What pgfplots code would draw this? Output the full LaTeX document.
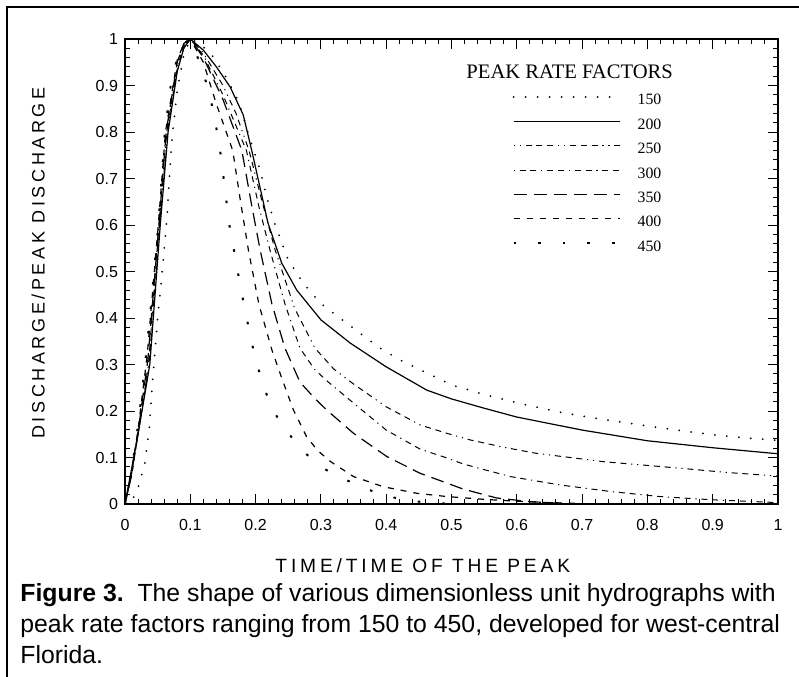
\documentclass[border=0pt]{standalone}
\usepackage{pgfplots}
\pgfplotsset{compat=1.18}
\usepackage{fontspec}
\setmainfont{Liberation Serif}
\setsansfont{Liberation Sans}
\newfontfamily\labelfont[LetterSpace=20]{Liberation Sans}

\pgfplotsset{
  p150/.style={black, line width=1pt, line cap=round, dash pattern=on 0pt off 6pt},
  p200/.style={black, line width=0.6pt},
  p250/.style={black, line width=0.5pt, dash pattern=on 0.6pt off 2.4pt on 0.6pt off 2.4pt on 3pt off 2.4pt on 3pt off 2.4pt on 3pt off 2.4pt},
  p300/.style={black, line width=0.5pt, dash pattern=on 0.6pt off 2.4pt on 3pt off 2.4pt on 3pt off 2.4pt},
  p350/.style={black, line width=0.6pt, dash pattern=on 6.5pt off 3.5pt},
  p400/.style={black, line width=0.6pt, dash pattern=on 3pt off 3.5pt},
  p450/.style={black, line width=1pt, dash pattern=on 1.3pt off 11pt},
}

\begin{document}
\begin{tikzpicture}
\path[use as bounding box] (-62.5pt,-86pt) rectangle (337pt,252pt);
\draw[line width=1pt] (-59.1pt,-90pt) -- (-59.1pt,248.6pt) -- (340pt,248.6pt);
\begin{axis}[
  at={(0,0)}, anchor=south west,
  scale only axis, width=326.5pt, height=232.5pt,
  xmin=0, xmax=1, ymin=0, ymax=1,
  xtick={0,0.1,0.2,0.3,0.4,0.5,0.6,0.7,0.8,0.9,1},
  ytick={0,0.1,0.2,0.3,0.4,0.5,0.6,0.7,0.8,0.9,1},
  minor x tick num=4, minor y tick num=4,
  tick align=inside,
  major tick length=5pt, minor tick length=2.5pt,
  axis line style={line width=0.6pt},
  every tick/.style={black, line width=0.5pt},
  /pgf/number format/assume math mode=true,
  tick label style={font=\sffamily\fontsize{8}{9}\selectfont},
  xticklabel style={yshift=-4pt},
  xlabel={TIME/TIME OF THE PEAK},
  ylabel={DISCHARGE/PEAK DISCHARGE},
  xlabel style={at={(axis description cs:0.456,-0.133)}, anchor=center,
    font=\labelfont\fontsize{9.6}{10}\selectfont},
  ylabel style={at={(axis description cs:-0.133,0.518)}, anchor=center,
    font=\labelfont\fontsize{9}{10}\selectfont},
  legend style={at={(0.593,0.894)}, anchor=north west, draw=none, fill=none,
    inner sep=0pt, row sep=0pt, font=\fontsize{7.9}{8}\selectfont,
    nodes={inner sep=0pt, text height=8.1pt, text depth=4.1pt}},
  legend image code/.code={\draw[#1] (0pt,2pt) -- (53pt,2pt); \path (61.5pt,2pt);},
  legend cell align=left,
]
\addplot[p150] coordinates {(0,0) (0.01,0.005) (0.02,0.035) (0.03,0.085) (0.037,0.16) (0.042,0.26) (0.05,0.40) (0.057,0.5) (0.064,0.61) (0.071,0.77) (0.08,0.89) (0.09,0.965) (0.1,1) (0.115,0.99) (0.135,0.962) (0.156,0.915) (0.174,0.865) (0.191,0.786) (0.207,0.718) (0.217,0.66) (0.23,0.60) (0.25,0.525) (0.273,0.475) (0.299,0.432) (0.329,0.40) (0.36,0.367) (0.393,0.333) (0.426,0.306) (0.462,0.282) (0.5,0.256) (0.554,0.234) (0.615,0.213) (0.671,0.196) (0.727,0.183) (0.789,0.170) (0.845,0.159) (0.906,0.148) (0.96,0.141) (1,0.137)};
\addplot[p200] coordinates {(0,0) (0.02,0.15) (0.038,0.30) (0.046,0.45) (0.054,0.60) (0.066,0.80) (0.08,0.93) (0.09,0.98) (0.1,1) (0.12,0.976) (0.14,0.94) (0.161,0.897) (0.181,0.837) (0.194,0.761) (0.219,0.604) (0.24,0.518) (0.263,0.46) (0.3,0.396) (0.345,0.346) (0.4,0.295) (0.462,0.245) (0.5,0.226) (0.55,0.206) (0.6,0.187) (0.7,0.159) (0.8,0.136) (0.9,0.121) (1,0.108)};
\addplot[p250] coordinates {(0,0) (0.01,0.06) (0.02,0.15) (0.037,0.30) (0.053,0.60) (0.065,0.80) (0.08,0.935) (0.09,0.98) (0.1,1) (0.12,0.97) (0.15,0.90) (0.17,0.84) (0.19,0.76) (0.21,0.65) (0.23,0.546) (0.26,0.42) (0.291,0.335) (0.32,0.29) (0.35,0.258) (0.4,0.209) (0.452,0.170) (0.493,0.152) (0.528,0.138) (0.58,0.122) (0.63,0.109) (0.733,0.091) (0.85,0.077) (0.92,0.068) (1,0.06)};
\addplot[p300] coordinates {(0,0) (0.01,0.06) (0.02,0.15) (0.036,0.30) (0.052,0.60) (0.064,0.80) (0.08,0.94) (0.09,0.985) (0.1,1) (0.12,0.965) (0.15,0.88) (0.186,0.76) (0.205,0.64) (0.222,0.546) (0.245,0.43) (0.268,0.335) (0.29,0.29) (0.309,0.265) (0.35,0.217) (0.4,0.159) (0.452,0.118) (0.493,0.099) (0.518,0.086) (0.59,0.059) (0.666,0.041) (0.743,0.027) (0.819,0.016) (0.9,0.009) (1,0.003)};
\addplot[p350] coordinates {(0,0) (0.01,0.065) (0.02,0.155) (0.035,0.31) (0.052,0.60) (0.063,0.80) (0.08,0.95) (0.09,0.99) (0.1,1) (0.12,0.96) (0.15,0.87) (0.179,0.76) (0.193,0.65) (0.207,0.546) (0.225,0.43) (0.245,0.335) (0.268,0.262) (0.29,0.228) (0.309,0.202) (0.35,0.152) (0.401,0.102) (0.452,0.066) (0.493,0.045) (0.518,0.032) (0.569,0.013) (0.62,0.005) (0.69,0)};
\addplot[p400] coordinates {(0,0) (0.01,0.07) (0.02,0.16) (0.034,0.32) (0.051,0.60) (0.062,0.80) (0.08,0.955) (0.09,0.99) (0.1,1) (0.12,0.95) (0.14,0.86) (0.165,0.76) (0.177,0.65) (0.189,0.546) (0.205,0.43) (0.225,0.331) (0.241,0.267) (0.258,0.202) (0.278,0.145) (0.295,0.115) (0.314,0.092) (0.35,0.059) (0.396,0.037) (0.447,0.023) (0.493,0.016) (0.55,0.01) (0.6,0.006) (0.65,0.003) (0.7,0.001)};
\addplot[p450] coordinates {(0,0) (0.01,0.07) (0.02,0.17) (0.03,0.29) (0.04,0.43) (0.051,0.60) (0.061,0.80) (0.07,0.90) (0.08,0.96) (0.09,0.99) (0.1,1) (0.112,0.958) (0.124,0.908) (0.134,0.853) (0.141,0.80) (0.147,0.747) (0.152,0.69) (0.157,0.632) (0.162,0.578) (0.17,0.525) (0.176,0.471) (0.184,0.417) (0.192,0.36) (0.201,0.306) (0.212,0.254) (0.226,0.202) (0.248,0.156) (0.273,0.113) (0.303,0.077) (0.338,0.052) (0.374,0.03) (0.411,0.014) (0.45,0.005) (0.5,0)};
\legend{150,200,250,300,350,400,450}
\node[font=\fontsize{10.3}{12}\selectfont, anchor=center] at (axis cs:0.681,0.929) {PEAK RATE FACTORS};
\end{axis}
\node[anchor=base west, align=left, inner sep=0pt, font=\sffamily\fontsize{12.4}{15.3}\selectfont] at (-52.5pt,-79.5pt)
  {\textbf{Figure 3.}\ \ The shape of various dimensionless unit hydrographs with\\
   peak rate factors ranging from 150 to 450, developed for west-central\\
   Florida.};
\end{tikzpicture}
\end{document}
